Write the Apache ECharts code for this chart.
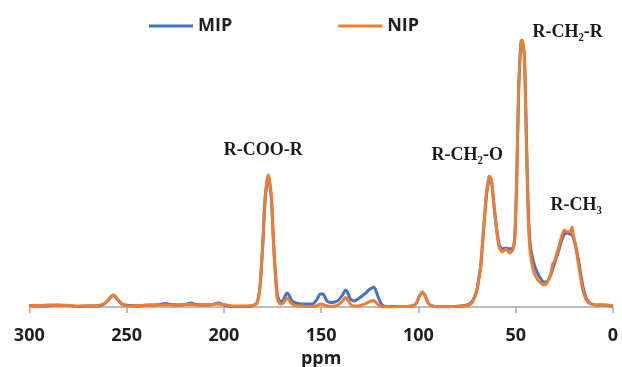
<!DOCTYPE html>
<html><head><meta charset="utf-8">
<script src="https://cdn.jsdelivr.net/npm/echarts@6/dist/echarts.min.js"></script>
<style>html,body{margin:0;padding:0;background:#fff}#c{width:622px;height:367px}</style>
</head><body><div id="c"></div>
<script>
// Chemical shift (ppm) sample points
var ppm = [300,295,290,285,280,275,270,265,262,260,258,257,256,254,252,248,244,240,235,230,227,224,220,217,214,210,206,203,200,196,192,188,185,183,181.5,180,179,178,177.2,176.5,175.5,174.5,173.5,172.5,171,169.5,168.5,167.5,166.5,165,163,160,157,154,152,150.5,149,147,145,143,141,139,137.5,136.5,135,133,131,129,127,125.5,124,123,122,120.5,119,117,114,110,106,103,101,99.5,98,96.5,95,93,90,86,82,78,75,73,72,71,70,69,68,67,66,65,64,63.5,62.5,61.5,60.5,59.5,58.5,57,55,53,51.5,50.5,49.5,48.5,47.5,47,46.5,45.5,44.5,43.5,42.5,41,39,37,35.5,34,33,32,31,30,29,28,26.5,25,23.5,22,21,20.5,19.5,18.5,17,15.5,14,12.5,11,9,6,3,0];
var nip = [1.5,1.5,2,1.5,1.5,1,1,1.5,3,6,10.5,12,11,6,2,1,1.5,1.5,2,2,2,2,2.5,2.5,2,2,2.5,3,2.5,1,1,1,1.5,4,20,64,105,125,132,126,108,64,30,8,3,4,7,9,7,3,1.5,1,0.5,0.5,1.5,3,2.5,1,0.5,1,2.5,6,9.5,8,3,1,1,2,3.5,5,6,6.5,5,2,0.5,0,0,0.5,0.5,1,4,11,15,11,4,1,0.5,0.5,0.5,1,1.5,3,6,10,16,27,40,66,92,115,128,131,127,108,88,72,60,55,58,54,57,70,130,220,262,267,266,250,160,84,54,37,28,24,22,24,28,33,43,46,53,59,70,77,75,76,80,73,64,52,33,17,8,4,3,2,2,2,1.5];
var mip = [1.5,1,1.5,2,1.5,0.5,1,1,2.5,5.5,10,11.5,10.5,6,2.5,1.5,1,2,2,3.5,2.5,2,2.5,4,2.5,2,2.5,4,2,0.5,0.5,0.5,1.5,4,19,62,102,122,130,124,106,66,34,12,5,7,11,14,12,6,4,3,3,3.5,8,13,13,6,4.5,5,7,12,17,15,8,6,8,11,14,17,19,20,17,9,3,0.5,0.5,0.5,0.5,1,4,11,14.5,11,4,1,0,0,0.5,1,2,4,7,11,17,28,41,65,89,112,125,128,126,108,90,74,62,58,59,58,59,68,125,215,258,265,264,250,170,95,62,46,35,28,25,25,28,32,38,44,50,56,66,73,74,73,72,70,63,55,38,21,10,5,3,2,2,1.5,1];
var xTicks = [0,50,100,150,200,250,300];
var seriesNames = ['MIP','NIP'];
var annotations = [
  {name:'R-COO-R', coord:[179.7,157]},
  {name:'R-CH\u2082-O', coord:[74.9,152]},
  {name:'R-CH\u2082-R', coord:[23.3,275]},
  {name:'R-CH\u2083', coord:[18.9,102]}
];
function pairs(ys){ return ppm.map(function(p,i){ return [p, ys[i]]; }); }
var chart = echarts.init(document.getElementById('c'), null, {renderer:'canvas'});
chart.setOption({
  animation:false,
  backgroundColor:'#ffffff',
  grid:{left:29.3, right:9, top:27, bottom:60, containLabel:false, outerBoundsMode:'none'},
  legend:{
    data:seriesNames, left:144, top:12, itemWidth:44, itemHeight:3, itemGap:106, icon:'rect',
    textStyle:{fontFamily:'Open Sans', fontWeight:'bold', fontSize:18, color:'#1f1f1f'}
  },
  xAxis:{
    type:'value', inverse:true, min:0, max:300, interval:50,
    name:'ppm', nameLocation:'middle', nameGap:37,
    nameTextStyle:{fontFamily:'Open Sans', fontWeight:'bold', fontSize:18, color:'#1f1f1f'},
    axisLine:{show:true, lineStyle:{color:'#a6a6a6', width:1.5}},
    axisTick:{show:true, length:6, lineStyle:{color:'#a6a6a6', width:1.5}},
    axisLabel:{margin:20, fontFamily:'Open Sans', fontWeight:'bold', fontSize:18, color:'#1f1f1f',
      formatter:function(v){ return xTicks.indexOf(v) >= 0 ? String(v) : ''; }},
    splitLine:{show:false}
  },
  yAxis:{type:'value', min:0, max:280, show:false, splitLine:{show:false}},
  series:[
    {name:'MIP', type:'line', data:pairs(mip), showSymbol:false, smooth:0.2,
     lineStyle:{color:'#4472C4', width:3}, itemStyle:{color:'#4472C4'}},
    {name:'NIP', type:'line', data:pairs(nip), showSymbol:false, smooth:0.2,
     lineStyle:{color:'#ED7D31', width:3}, itemStyle:{color:'#ED7D31'},
     markPoint:{
       symbol:'circle', symbolSize:0,
       label:{show:true, position:'inside', formatter:function(p){return p.name;},
         fontFamily:'Liberation Serif', fontWeight:'bold', fontSize:18, color:'#1a1a1a'},
       data:annotations.map(function(a){ return {name:a.name, coord:a.coord}; })
     }}
  ]
});
</script></body></html>
